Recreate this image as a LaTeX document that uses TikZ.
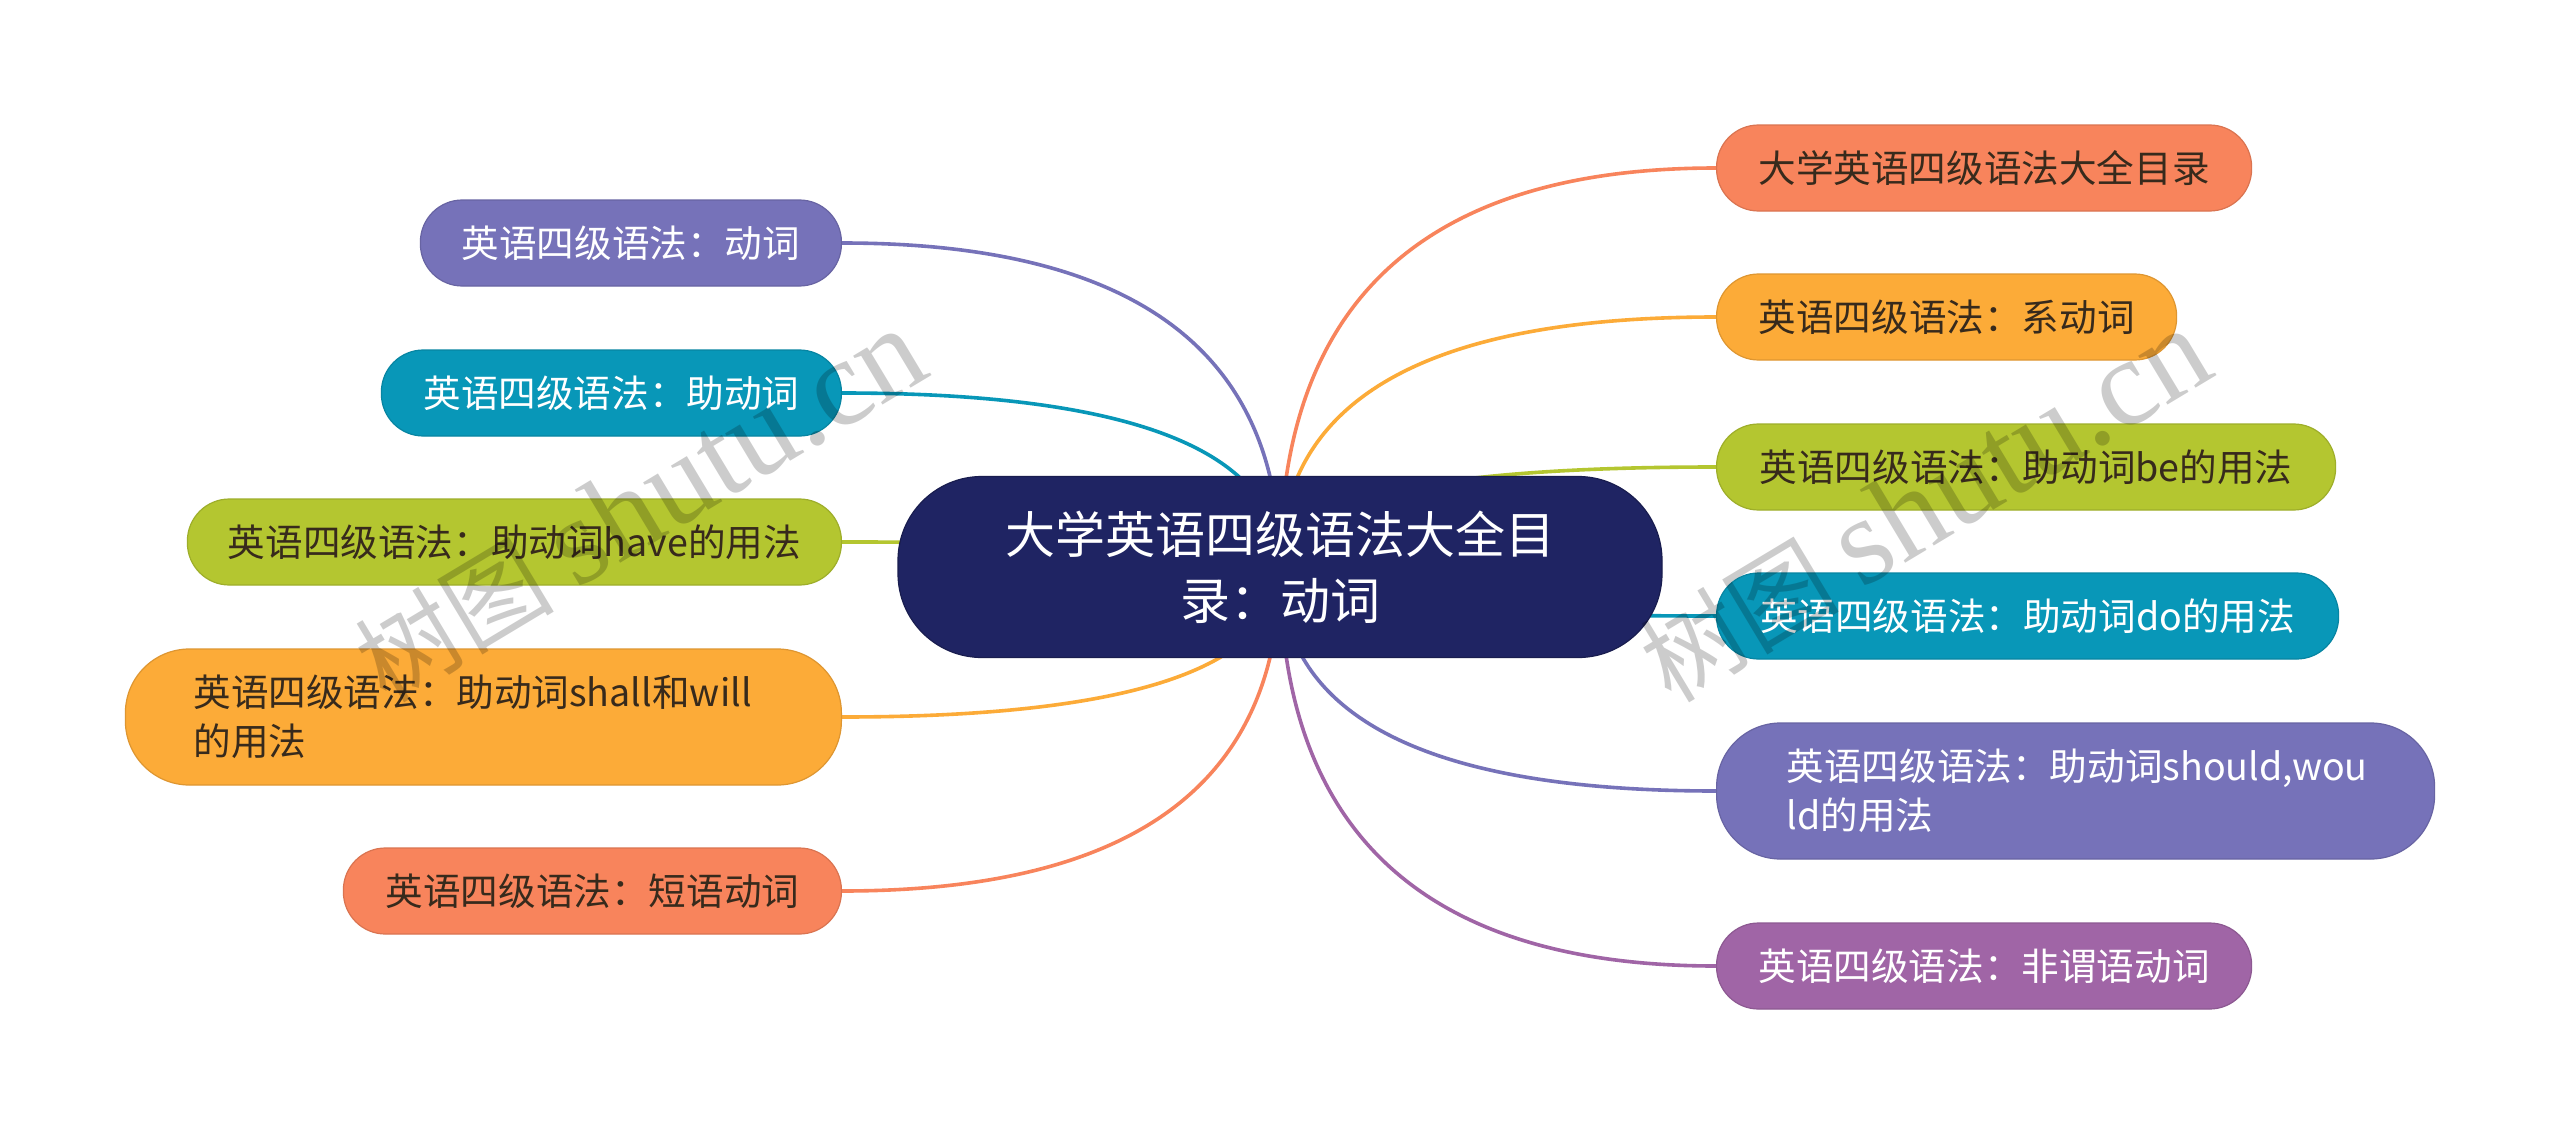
\documentclass[tikz,border=0pt]{standalone}
\usepackage{fontspec}
\setmainfont{Noto Sans CJK SC}
\newfontfamily\wmlatin{Liberation Serif}
\newfontfamily\wmcjk{Noto Sans CJK SC}
\usetikzlibrary{calc,backgrounds}
\definecolor{navy}{RGB}{31,36,99}
\definecolor{coral}{RGB}{248,132,92}
\definecolor{amber}{RGB}{252,171,56}
\definecolor{lime}{RGB}{180,198,48}
\definecolor{teal}{RGB}{8,151,184}
\definecolor{iris}{RGB}{118,114,185}
\definecolor{plum}{RGB}{160,101,166}
\definecolor{darktext}{RGB}{55,42,28}
\begin{document}
\begin{tikzpicture}[x=0.5pt,y=-0.5pt,
  leaf/.style={rectangle, rounded corners=21pt, minimum height=43pt, inner sep=0pt,
    font=\fontsize{18.8}{24.5}\selectfont, line width=0.6pt},
  twoline/.style={leaf, rounded corners=32pt, minimum height=68pt, inner xsep=34pt, align=left},
  cCoral/.style={fill=coral, draw=coral!88!black, text=darktext},
  cAmber/.style={fill=amber, draw=amber!88!black, text=darktext},
  cLime/.style={fill=lime, draw=lime!88!black, text=darktext},
  cTeal/.style={fill=teal, draw=teal!88!black, text=white},
  cIris/.style={fill=iris, draw=iris!88!black, text=white},
  cPlum/.style={fill=plum, draw=plum!88!black, text=white},
  link/.style={line width=1.8pt},
  wm/.style={text=black, opacity=0.2, inner sep=0pt}]
\useasboundingbox (0,0) rectangle (2560,1135);

% root
\node[rectangle, rounded corners=42pt, fill=navy, draw=navy!80!black, line width=0.6pt,
  text=white, minimum width=382pt, minimum height=90.5pt, align=center,
  font=\fontsize{25}{33}\selectfont] (root) at (1280,567) {大学英语四级语法大全目\\录：动词};

% right children
\node[leaf, cCoral, minimum width=267.5pt, anchor=west] (r1) at (1716,168) {大学英语四级语法大全目录};
\node[leaf, cAmber, minimum width=230pt, anchor=west] (r2) at (1716,317) {英语四级语法：系动词};
\node[leaf, cLime, minimum width=309.5pt, anchor=west] (r3) at (1716,467) {英语四级语法：助动词be的用法};
\node[leaf, cTeal, minimum width=311pt, anchor=west] (r4) at (1716,616) {英语四级语法：助动词do的用法};
\node[twoline, cIris, inner xsep=35pt, text width=289pt, anchor=west] (r5) at (1716,791) {英语四级语法：助动词should,wou\\ld的用法};
\node[leaf, cPlum, minimum width=267.5pt, anchor=west] (r6) at (1716,966) {英语四级语法：非谓语动词};

% left children
\node[leaf, cIris, minimum width=210.5pt, anchor=east] (l1) at (842,243) {英语四级语法：动词};
\node[leaf, cTeal, minimum width=230pt, anchor=east] (l2) at (842,393) {英语四级语法：助动词};
\node[leaf, cLime, minimum width=327pt, anchor=east] (l3) at (842,542) {英语四级语法：助动词have的用法};
\node[twoline, cAmber, text width=290pt, anchor=east] (l4) at (842,717) {英语四级语法：助动词shall和will\\的用法};
\node[leaf, cCoral, minimum width=249pt, anchor=east] (l5) at (842,891) {英语四级语法：短语动词};

% background and connectors
\begin{scope}[on background layer]
\fill[white] (0,0) rectangle (2560,1135);
\foreach \n/\s/\c in {r1/west/coral, r2/west/amber, r3/west/lime, r4/west/teal, r5/west/iris, r6/west/plum,
                      l1/east/iris, l2/east/teal, l3/east/lime, l4/east/amber, l5/east/coral} {
  \coordinate (k) at (root.center |- \n.\s);
  \draw[link, draw=\c] (root.center) .. controls ($(root.center)!0.6667!(k)$) and ($(\n.\s)!0.6667!(k)$) .. (\n.\s);
}
\end{scope}

% watermarks
\node[wm, rotate=31] (wm1) at (640,506) {\fontsize{50}{50}\selectfont\wmcjk 树图 \fontsize{62}{62}\selectfont\wmlatin shutu.cn};
\node[wm, rotate=31] (wm2) at (1925,506) {\fontsize{50}{50}\selectfont\wmcjk 树图 \fontsize{62}{62}\selectfont\wmlatin shutu.cn};
\end{tikzpicture}
\end{document}
